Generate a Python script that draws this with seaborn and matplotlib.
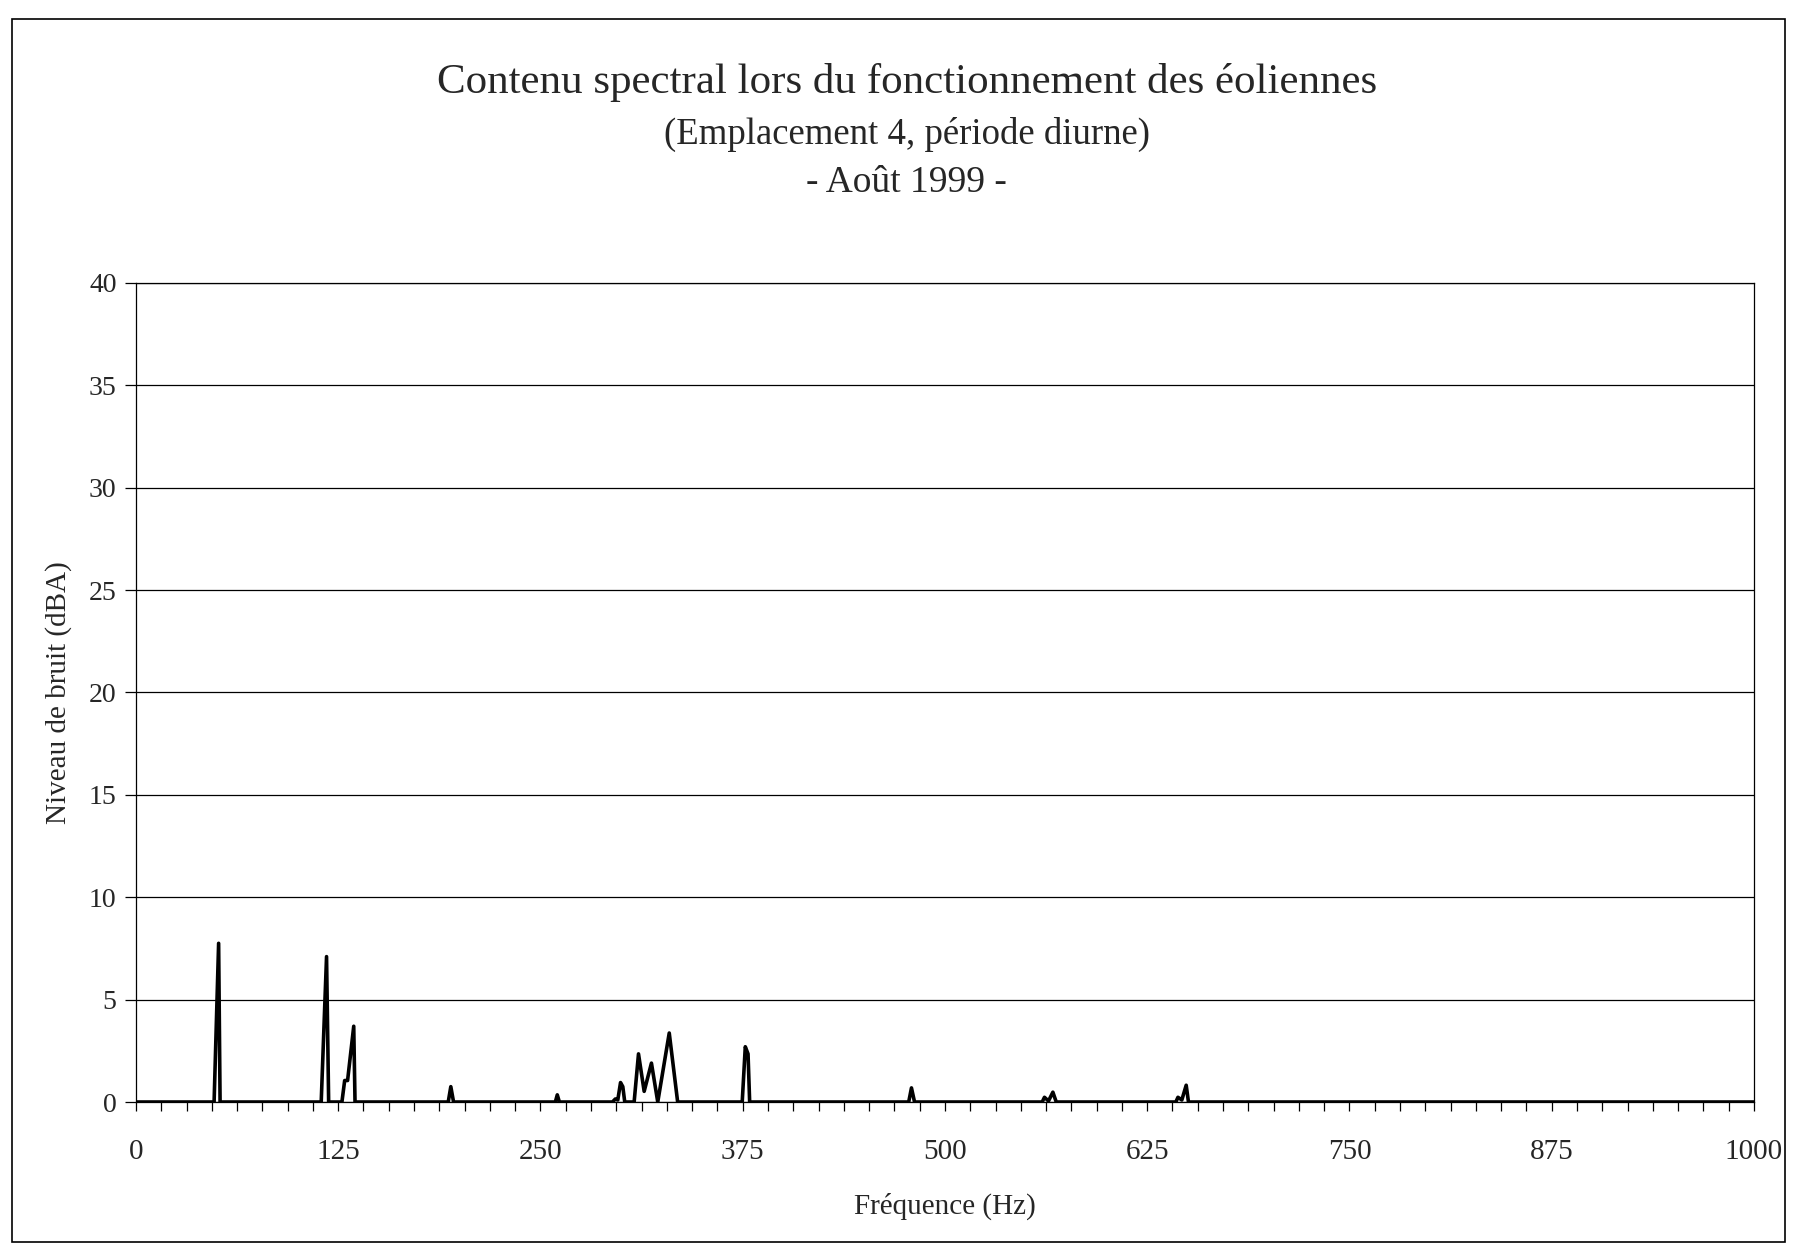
import numpy as np
import matplotlib
matplotlib.use("Agg")
import matplotlib.pyplot as plt
from matplotlib.patches import Rectangle
from matplotlib.ticker import FixedLocator, NullFormatter
import seaborn as sns

# spectre (Hz, dBA) - zéro partout ailleurs
freq = [0, 48.3, 51.1, 52.0,
        114.5, 117.8, 119.1,
        127.3, 129.0, 130.8, 134.6, 135.4,
        193.0, 194.6, 196.3,
        259.2, 260.4, 261.7,
        294.5, 296.3, 297.8, 299.5, 300.9, 302.1,
        307.9, 310.6, 314.1, 318.6, 322.5, 329.6, 334.8,
        374.7, 376.6, 378.3, 379.3,
        477.6, 479.3, 481.2,
        560.1, 561.5, 564.0, 566.7, 568.8,
        642.7, 644.0, 646.4, 649.1, 650.5,
        1000]
niveau = [0, 0, 7.75, 0,
          0, 7.1, 0,
          0, 1.05, 1.05, 3.7, 0,
          0, 0.75, 0,
          0, 0.35, 0,
          0, 0.15, 0.1, 0.95, 0.75, 0,
          0, 2.35, 0.52, 1.9, 0, 3.37, 0,
          0, 2.7, 2.35, 0,
          0, 0.69, 0,
          0, 0.23, 0.05, 0.48, 0,
          0, 0.23, 0.1, 0.82, 0,
          0]

x_labels = [0, 125, 250, 375, 500, 625, 750, 875, 1000]
y_ticks = [0, 5, 10, 15, 20, 25, 30, 35, 40]

sns.set_theme(style="white")
plt.rcParams['font.family'] = ['Liberation Serif', 'DejaVu Serif']

fig = plt.figure(figsize=(18.03, 12.57), dpi=100)
ax = fig.add_axes([0.0754, 0.1233, 0.8974, 0.6516])

sns.lineplot(x=freq, y=niveau, color="black", lw=2.6, estimator=None, sort=False, ax=ax)

ax.set_xlim(0, 1000)
ax.set_ylim(0, 40)
ax.xaxis.set_major_locator(FixedLocator(x_labels))
ax.xaxis.set_minor_locator(FixedLocator(np.arange(0, 1000.1, 15.625)))
ax.xaxis.set_minor_formatter(NullFormatter())
ax.set_xticklabels([str(v) for v in x_labels])
ax.set_yticks(y_ticks)
ax.set_yticklabels([str(v) for v in y_ticks])

ax.tick_params(axis="x", which="both", direction="out", length=6.5, width=0.9,
               color="black", bottom=True, labelsize=21, pad=20)
ax.tick_params(axis="y", which="major", direction="out", length=8, width=0.9,
               color="black", left=True, labelsize=20, pad=6)

ax.grid(axis="y", color="black", lw=0.9)
ax.grid(axis="x", visible=False)
for s in ax.spines.values():
    s.set_color("black")
    s.set_linewidth(0.9)

ax.set_xlabel("Fréquence (Hz)", fontsize=21, labelpad=20)
ax.set_ylabel("Niveau de bruit (dBA)", fontsize=21, labelpad=12)

fig.text(0.503, 0.934, "Contenu spectral lors du fonctionnement des éoliennes",
         ha="center", va="center", fontsize=31)
fig.text(0.503, 0.893, "(Emplacement 4, période diurne)",
         ha="center", va="center", fontsize=26.5)
fig.text(0.503, 0.855, "- Août 1999 -",
         ha="center", va="center", fontsize=27)

# cadre extérieur du graphique
fig.patches.append(Rectangle((0.0064, 0.012), 0.9836, 0.973, transform=fig.transFigure,
                             fill=False, edgecolor="black", lw=1.2))

fig.savefig("out.png", dpi=100, facecolor="white")
